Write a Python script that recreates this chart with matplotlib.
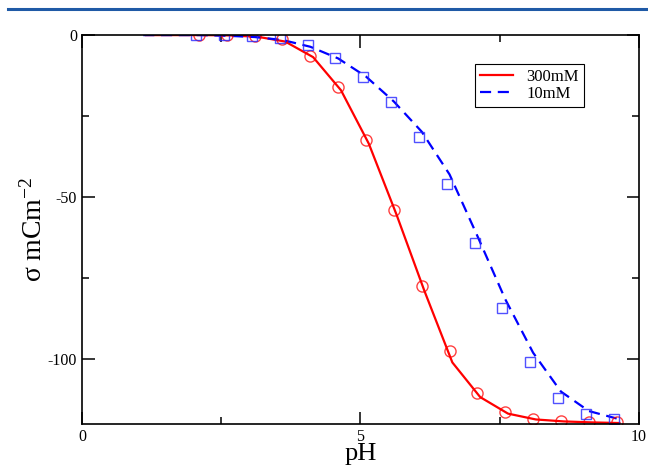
import numpy as np
import matplotlib
matplotlib.use("Agg")
from matplotlib import pyplot as plt
from matplotlib.lines import Line2D
from matplotlib.ticker import MultipleLocator

plt.rcParams.update({
    "font.family": "Liberation Serif",
    "mathtext.fontset": "custom",
    "mathtext.rm": "Liberation Serif",
    "mathtext.it": "Liberation Serif:italic",
    "axes.unicode_minus": False,
})

# theory curves (lines)
ph_line_300 = [1.15, 1.65, 2.15, 2.65, 3.15, 3.65, 4.15, 4.65, 5.15, 5.65,
               6.15, 6.65, 7.15, 7.65, 8.15, 8.65, 9.15, 9.65]
sigma_line_300 = [0.0, 0.0, 0.0, -0.1, -0.5, -2.0, -6.8, -17.0, -33.5, -55.5,
                  -79.0, -101.0, -111.7, -116.8, -118.6, -119.2, -119.5, -119.7]

ph_line_10 = [1.1, 1.6, 2.1, 2.6, 3.1, 3.6, 4.1, 4.6, 5.1, 5.6,
              6.1, 6.6, 7.1, 7.6, 8.1, 8.6, 9.1, 9.6]
sigma_line_10 = [0.0, 0.0, 0.0, -0.2, -0.6, -1.5, -3.6, -7.2, -12.8, -20.5,
                 -29.8, -43.0, -62.0, -81.5, -98.0, -110.0, -116.0, -118.3]

# simulation points (markers)
ph_pts_300 = [2.1, 2.6, 3.1, 3.6, 4.1, 4.6, 5.1, 5.6, 6.1, 6.6, 7.1, 7.6,
              8.1, 8.6, 9.1, 9.6]
sigma_pts_300 = [0.0, 0.0, -0.3, -1.3, -6.5, -16.0, -32.4, -54.0, -77.5,
                 -97.5, -110.5, -116.4, -118.4, -119.0, -119.3, -119.5]

ph_pts_10 = [2.05, 2.55, 3.05, 3.55, 4.05, 4.55, 5.05, 5.55, 6.05, 6.55,
             7.05, 7.55, 8.05, 8.55, 9.05, 9.55]
sigma_pts_10 = [0.0, 0.0, -0.4, -1.0, -3.2, -7.2, -13.0, -20.7, -31.5, -45.8,
                -64.2, -84.3, -101.0, -112.0, -116.8, -118.5]

fig = plt.figure(figsize=(6.48, 4.68), dpi=100)
ax = fig.add_axes([0.1265, 0.094, 0.8595, 0.831])

# header rule at top of page
fig.add_artist(Line2D([0.012, 1.0], [0.981, 0.981], color="#1f5aa6", linewidth=2.2))

ax.plot(ph_line_300, sigma_line_300, color="red", linewidth=1.6, label="300mM")
ax.plot(ph_line_10, sigma_line_10, color="blue", linewidth=1.6,
        linestyle=(0, (5, 3)), label="10mM")
ax.plot(ph_pts_300, sigma_pts_300, linestyle="none", marker="o", markersize=8,
        markerfacecolor="none", markeredgecolor=(1, 0, 0, 0.75), markeredgewidth=1.0)
ax.plot(ph_pts_10, sigma_pts_10, linestyle="none", marker="s", markersize=7.5,
        markerfacecolor="none", markeredgecolor=(0.15, 0.15, 1, 0.8), markeredgewidth=1.0)

ax.set_xlim(0, 10)
ax.set_ylim(-120, 0)
ax.xaxis.set_major_locator(MultipleLocator(5))
ax.xaxis.set_minor_locator(MultipleLocator(2.5))
ax.yaxis.set_major_locator(MultipleLocator(50))
ax.yaxis.set_minor_locator(MultipleLocator(25))
ax.tick_params(which="both", direction="in", top=True, right=True,
               labelsize=11.5, width=1.1)
ax.tick_params(which="major", length=9)
ax.tick_params(which="minor", length=5)
for s in ax.spines.values():
    s.set_linewidth(1.2)

ax.set_xlabel("pH", fontsize=19, labelpad=-1)
ax.set_ylabel(r"σ mCm$^{\mathrm{-2}}$", fontsize=20)
ax.yaxis.set_label_coords(-0.062, 0.5)

leg = ax.legend(loc="upper left", bbox_to_anchor=(0.69, 0.948), fontsize=12,
                fancybox=False, edgecolor="black", framealpha=1,
                handlelength=2.0, borderpad=0.3, labelspacing=0.1,
                handletextpad=0.8)
leg.get_frame().set_linewidth(0.8)

plt.savefig("out.png", dpi=100)
